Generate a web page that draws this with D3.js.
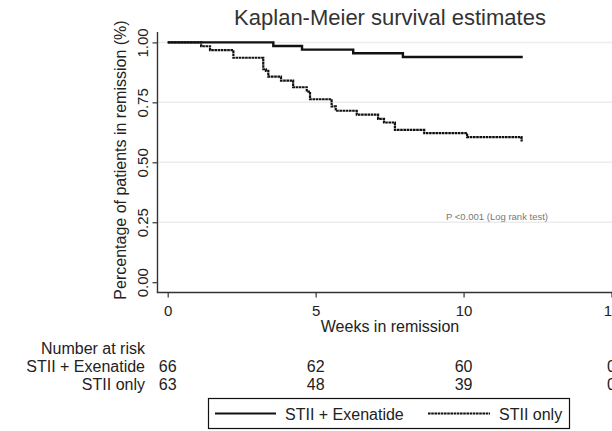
<!DOCTYPE html>
<html>
<head>
<meta charset="utf-8">
<script src="https://cdn.jsdelivr.net/npm/d3@7"></script>
<style>
	body { margin: 0; background: #fff; }
	svg text { font-family: "Liberation Sans", Arial, sans-serif; fill: #222; }
</style>
</head>
<body>
<div id="chart"></div>
<script>
// data
var groups = ["STII + Exenatide", "STII only"];
var exenatideTimes = [0, 3.57, 4.54, 6.27, 7.95, 12.0];
var exenatideSurv = [1.0, 0.985, 0.970, 0.955, 0.939, 0.939];
var stiiTimes = [0, 1.13, 1.43, 2.22, 3.23, 3.32, 3.40, 3.83, 4.24, 4.70, 4.81, 5.54, 5.68, 6.39, 7.11, 7.31, 7.68, 8.67, 10.12, 11.96, 12.0];
var stiiSurv = [1.0, 0.984, 0.968, 0.936, 0.888, 0.881, 0.857, 0.841, 0.813, 0.795, 0.763, 0.733, 0.715, 0.699, 0.681, 0.666, 0.635, 0.622, 0.605, 0.591, 0.591];
var xTicks = [0, 5, 10, 15];
var yTicks = [0, 0.25, 0.5, 0.75, 1];
var riskTimes = [0, 5, 10, 15];
var exenatideRisk = [66, 62, 60, 0];
var stiiRisk = [63, 48, 39, 0];

var width = 612, height = 431;
var svg = d3.select("#chart").append("svg")
	.attr("width", width)
	.attr("height", height);

var x = d3.scaleLinear().domain([0, 15]).range([167.7, 611.5]);
var y = d3.scaleLinear().domain([0, 1]).range([282.2, 42.4]);
var axisLeftX = 157.5, axisBottomY = 292.5;

// title
svg.append("text")
	.attr("x", 390).attr("y", 25)
	.attr("text-anchor", "middle")
	.style("font-size", "22px")
	.style("fill", "#333")
	.text("Kaplan-Meier survival estimates");

// grid
svg.selectAll("line.grid")
	.data(yTicks.filter(function (d) { return d > 0; }))
	.enter().append("line")
	.attr("class", "grid")
	.attr("x1", axisLeftX + 1).attr("x2", width)
	.attr("y1", function (d) { return y(d); })
	.attr("y2", function (d) { return y(d); })
	.attr("stroke", "#ececec")
	.attr("stroke-width", 1.5);

// y axis
var yAxis = svg.append("g")
	.attr("transform", "translate(" + axisLeftX + ",0)")
	.call(d3.axisLeft(y).tickValues(yTicks).tickFormat(d3.format(".2f")).tickSize(5).tickSizeOuter(0));
yAxis.select(".domain").remove();
yAxis.selectAll(".tick line").attr("stroke", "#333").attr("stroke-width", 1.2);
yAxis.selectAll(".tick text")
	.attr("transform", "rotate(-90)")
	.attr("x", 0).attr("y", -10)
	.attr("dy", 0)
	.attr("text-anchor", "middle")
	.style("font-size", "15px");
svg.append("line")
	.attr("x1", axisLeftX).attr("x2", axisLeftX)
	.attr("y1", 32).attr("y2", axisBottomY)
	.attr("stroke", "#333").attr("stroke-width", 1.4);

svg.append("text")
	.attr("transform", "translate(126,160) rotate(-90)")
	.attr("text-anchor", "middle")
	.style("font-size", "16px")
	.text("Percentage of patients in remission (%)");

// x axis
var xAxis = svg.append("g")
	.attr("transform", "translate(0," + axisBottomY + ")")
	.call(d3.axisBottom(x).tickValues(xTicks).tickSize(5).tickSizeOuter(0));
xAxis.select(".domain").remove();
xAxis.selectAll(".tick line").attr("stroke", "#333").attr("stroke-width", 1.2);
xAxis.selectAll(".tick text")
	.attr("y", 23)
	.attr("dy", 0)
	.style("font-size", "15px");
svg.append("line")
	.attr("x1", axisLeftX - 0.7).attr("x2", width)
	.attr("y1", axisBottomY).attr("y2", axisBottomY)
	.attr("stroke", "#333").attr("stroke-width", 1.4);

svg.append("text")
	.attr("x", 390).attr("y", 332)
	.attr("text-anchor", "middle")
	.style("font-size", "16px")
	.text("Weeks in remission");

// p-value note
svg.append("text")
	.attr("x", 446).attr("y", 220)
	.style("font-size", "9.5px")
	.style("fill", "#777")
	.text("P <0.001 (Log rank test)");

// survival curves
var line = d3.line()
	.x(function (d) { return x(d[0]); })
	.y(function (d) { return y(d[1]); })
	.curve(d3.curveStepAfter);

var exData = d3.zip(exenatideTimes, exenatideSurv);
var stData = d3.zip(stiiTimes, stiiSurv);

svg.append("path")
	.datum(stData)
	.attr("d", line)
	.attr("fill", "none")
	.attr("stroke", "#111")
	.attr("stroke-width", 2.2)
	.attr("stroke-dasharray", "2.6,0.6");

svg.append("path")
	.datum(exData)
	.attr("d", line)
	.attr("fill", "none")
	.attr("stroke", "#111")
	.attr("stroke-width", 2.4);

// number at risk table
svg.append("text")
	.attr("x", 145).attr("y", 354)
	.attr("text-anchor", "end")
	.style("font-size", "16px")
	.text("Number at risk");

var riskRows = [exenatideRisk, stiiRisk];
riskRows.forEach(function (row, i) {
	var rowY = 372 + i * 18;
	svg.append("text")
		.attr("x", 145).attr("y", rowY)
		.attr("text-anchor", "end")
		.style("font-size", "16px")
		.text(groups[i]);
	svg.selectAll("text.risk" + i)
		.data(row)
		.enter().append("text")
		.attr("class", "risk" + i)
		.attr("x", function (d, j) { return x(riskTimes[j]); })
		.attr("y", rowY)
		.attr("text-anchor", "middle")
		.style("font-size", "16px")
		.text(function (d) { return d; });
});

// legend
var legend = svg.append("g");
legend.append("rect")
	.attr("x", 208.5).attr("y", 398.5)
	.attr("width", 361).attr("height", 30)
	.attr("fill", "none")
	.attr("stroke", "#111")
	.attr("stroke-width", 1.2);
var legendItems = [
	{ x1: 215, x2: 276, tx: 285, dash: null, w: 2.2 },
	{ x1: 428, x2: 490, tx: 499, dash: "2.6,0.6", w: 1.8 }
];
legendItems.forEach(function (d, i) {
	legend.append("line")
		.attr("x1", d.x1).attr("x2", d.x2)
		.attr("y1", 413.5).attr("y2", 413.5)
		.attr("stroke", "#111")
		.attr("stroke-width", d.w)
		.attr("stroke-dasharray", d.dash);
	legend.append("text")
		.attr("x", d.tx).attr("y", 419.5)
		.style("font-size", "16px")
		.text(groups[i]);
});
</script>
</body>
</html>
